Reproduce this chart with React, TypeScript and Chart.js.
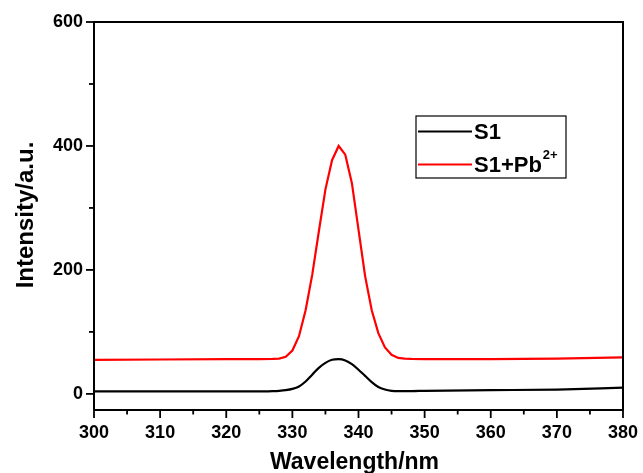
import React, { useEffect, useRef } from "react";
import { Chart, registerables } from "chart.js";

Chart.register(...registerables);

const wavelengths = [300, 310, 320, 325, 327, 328, 329, 330, 331, 332, 333, 334, 335, 336, 337, 338, 339, 340, 341, 342, 343, 344, 345, 346, 347, 348, 350, 360, 370, 380];
const s1Values = [4, 4, 4, 4, 4.5, 5, 6, 8, 12, 20, 31, 42, 50, 55, 56, 54, 48, 39, 29, 19, 11, 7, 5, 4.5, 4.5, 4.5, 5, 6, 7, 10];
const s1PbValues = [55, 55.5, 56, 56, 56.5, 57, 60, 70, 93, 135, 192, 262, 330, 377, 400, 386, 340, 265, 190, 135, 98, 75, 63, 58, 57, 56.5, 56, 56, 57, 59];
const xTickLabels = [300, 310, 320, 330, 340, 350, 360, 370, 380];
const yTickLabels = [0, 200, 400, 600];
const seriesNames = ["S1", "S1+Pb"];
const seriesColors = ["#000000", "#ff0000"];

const FONT = "'Liberation Sans', Arial, Helvetica, sans-serif";

const framePlugin = {
  id: "frameAndExtras",
  afterDraw(chart: any) {
    const { ctx, chartArea, scales } = chart;
    const { left, right, top, bottom } = chartArea;
    ctx.save();
    ctx.strokeStyle = "#000";
    ctx.lineWidth = 2;
    ctx.beginPath();
    ctx.moveTo(left, bottom);
    ctx.lineTo(left, top);
    ctx.lineTo(right, top);
    ctx.lineTo(right, bottom);
    ctx.lineTo(left, bottom);
    ctx.stroke();
    ctx.lineWidth = 1.8;
    for (let v = 300; v <= 380; v += 5) {
      const px = scales.x.getPixelForValue(v);
      const len = v % 10 === 0 ? 8 : 4.5;
      ctx.beginPath();
      ctx.moveTo(px, bottom);
      ctx.lineTo(px, bottom + len);
      ctx.stroke();
    }
    for (let v = 0; v <= 600; v += 100) {
      const py = scales.y.getPixelForValue(v);
      const len = v % 200 === 0 ? 8 : 5;
      ctx.beginPath();
      ctx.moveTo(left - len, py);
      ctx.lineTo(left, py);
      ctx.stroke();
    }
    ctx.fillStyle = "#000";
    ctx.font = `bold 23px ${FONT}`;
    ctx.textAlign = "center";
    ctx.textBaseline = "alphabetic";
    ctx.fillText("Wavelength/nm", (left + right) / 2 - 4, 469);
    ctx.save();
    ctx.translate(33, (top + bottom) / 2 - 1);
    ctx.rotate(-Math.PI / 2);
    ctx.font = `bold 24px ${FONT}`;
    ctx.fillText("Intensity/a.u.", 0, 0);
    ctx.restore();
    const bx = 416, by = 116, bw = 150, bh = 62;
    ctx.lineWidth = 1.2;
    ctx.strokeStyle = "#000";
    ctx.strokeRect(bx, by, bw, bh);
    const rows = [131.5, 164.5];
    rows.forEach((ry, i) => {
      ctx.strokeStyle = seriesColors[i];
      ctx.lineWidth = 2;
      ctx.beginPath();
      ctx.moveTo(bx + 2, ry);
      ctx.lineTo(bx + 56, ry);
      ctx.stroke();
      ctx.fillStyle = "#000";
      ctx.font = `bold 22px ${FONT}`;
      ctx.textAlign = "left";
      ctx.textBaseline = "alphabetic";
      ctx.fillText(seriesNames[i], bx + 58, ry + 7.5);
      if (i === 1) {
        const w = ctx.measureText(seriesNames[i]).width;
        ctx.font = `bold 13px ${FONT}`;
        ctx.fillText("2+", bx + 58 + w + 1, ry - 6);
      }
    });
    ctx.restore();
  },
};

export default function App() {
  const canvasRef = useRef<HTMLCanvasElement | null>(null);

  useEffect(() => {
    document.body.style.margin = "0";
    const canvas = canvasRef.current;
    if (!canvas) return;
    const chart = new Chart(canvas, {
      type: "line",
      data: {
        datasets: [
          {
            label: seriesNames[0],
            data: wavelengths.map((x, i) => ({ x, y: s1Values[i] })),
            borderColor: seriesColors[0],
            borderWidth: 2.2,
            pointRadius: 0,
            cubicInterpolationMode: "monotone",
            fill: false,
          },
          {
            label: seriesNames[1] + "2+",
            data: wavelengths.map((x, i) => ({ x, y: s1PbValues[i] })),
            borderColor: seriesColors[1],
            borderWidth: 2.2,
            pointRadius: 0,
            tension: 0,
            fill: false,
          },
        ],
      },
      options: {
        animation: false,
        responsive: false,
        events: [],
        layout: { padding: { top: 22, right: 20, left: 0, bottom: 0 } },
        plugins: { legend: { display: false }, tooltip: { enabled: false } },
        scales: {
          x: {
            type: "linear",
            min: 300,
            max: 380,
            afterBuildTicks: (s: any) => {
              s.ticks = xTickLabels.map((v) => ({ value: v }));
            },
            afterFit: (s: any) => {
              s.height = 63;
              s.paddingLeft = 0;
              s.paddingRight = 0;
            },
            grid: { display: false, drawTicks: false },
            border: { display: false },
            ticks: {
              color: "#000",
              font: { family: FONT, size: 18, weight: "bold" },
              padding: 12,
              maxRotation: 0,
              autoSkip: false,
            },
          },
          y: {
            type: "linear",
            min: -26,
            max: 600,
            afterBuildTicks: (s: any) => {
              s.ticks = yTickLabels.map((v) => ({ value: v }));
            },
            afterFit: (s: any) => {
              s.width = 94;
              s.paddingTop = 0;
              s.paddingBottom = 0;
            },
            grid: { display: false, drawTicks: false },
            border: { display: false },
            ticks: {
              color: "#000",
              font: { family: FONT, size: 18, weight: "bold" },
              padding: 11,
              autoSkip: false,
            },
          },
        },
      },
      plugins: [framePlugin],
    } as any);
    return () => chart.destroy();
  }, []);

  return (
    <div style={{ width: 643, height: 473 }}>
      <canvas ref={canvasRef} width={643} height={473} style={{ width: 643, height: 473, display: "block" }} />
    </div>
  );
}
